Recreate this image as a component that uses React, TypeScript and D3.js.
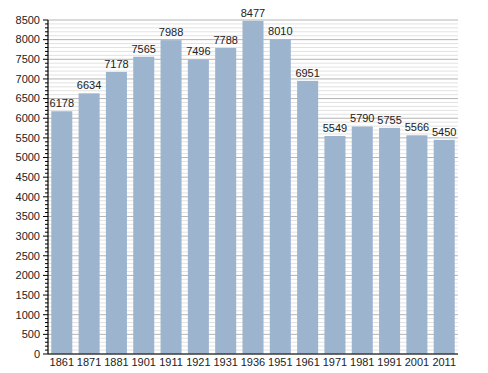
import React from "react";
import * as d3 from "d3";

const years = ["1861","1871","1881","1901","1911","1921","1931","1936","1951","1961","1971","1981","1991","2001","2011"];
const population = [6178,6634,7178,7565,7988,7496,7788,8477,8010,6951,5549,5790,5755,5566,5450];
const majorTicks = d3.range(0, 8501, 500);
const minorTicks = d3.range(0, 8501, 100).filter((v) => v % 500 !== 0);

const W = 488, H = 373;
const left = 48, right = 458, top = 20, bottom = 354;

export default function App() {
  const x = d3.scaleBand<string>().domain(years).range([left, right]).paddingInner(0.23).paddingOuter(0.12);
  const y = d3.scaleLinear().domain([0, 8500]).range([bottom, top]);
  const font = "'Liberation Sans', Arial, sans-serif";
  return (
    <svg width={W} height={H} style={{ position: "absolute", left: 0, top: 0, background: "#fff" }}>
      <g>
        {minorTicks.map((v) => (
          <line key={"mg" + v} x1={left} x2={right} y1={y(v)} y2={y(v)} stroke="#e2e2e2" strokeWidth={1} />
        ))}
        {majorTicks.map((v) => (
          <line key={"Mg" + v} x1={left} x2={right} y1={y(v)} y2={y(v)} stroke="#b4b4b4" strokeWidth={1} />
        ))}
      </g>
      <g>
        {years.map((yr, i) => (
          <rect key={yr} x={x(yr)} y={y(population[i])} width={x.bandwidth()} height={bottom - y(population[i])} fill="#9db4cf" />
        ))}
      </g>
      <g fontFamily={font} fontSize={11} fill="#222">
        {years.map((yr, i) => (
          <text key={"v" + yr} x={(x(yr) as number) + x.bandwidth() / 2} y={y(population[i]) - 4} textAnchor="middle">
            {population[i]}
          </text>
        ))}
      </g>
      <g>
        <line x1={left} x2={left} y1={top} y2={bottom} stroke="#000" strokeWidth={1.2} />
        <line x1={left} x2={right} y1={bottom} y2={bottom} stroke="#000" strokeWidth={1.2} />
        {minorTicks.map((v) => (
          <line key={"mt" + v} x1={left - 3} x2={left} y1={y(v)} y2={y(v)} stroke="#000" strokeWidth={1} />
        ))}
        {majorTicks.map((v) => (
          <line key={"Mt" + v} x1={left - 5} x2={left} y1={y(v)} y2={y(v)} stroke="#000" strokeWidth={1} />
        ))}
      </g>
      <g fontFamily={font} fontSize={11} fill="#222">
        {majorTicks.map((v) => (
          <text key={"yl" + v} x={left - 8} y={y(v)} dy="0.35em" textAnchor="end">
            {v}
          </text>
        ))}
        {years.map((yr) => (
          <text key={"xl" + yr} x={(x(yr) as number) + x.bandwidth() / 2} y={bottom + 12} textAnchor="middle">
            {yr}
          </text>
        ))}
      </g>
    </svg>
  );
}
